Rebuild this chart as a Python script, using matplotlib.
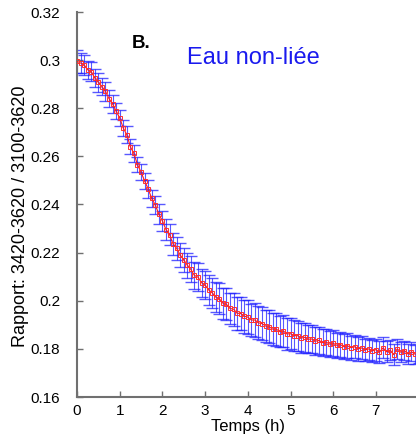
import numpy as np
import matplotlib
matplotlib.use("Agg")
import matplotlib.pyplot as plt
from matplotlib.ticker import FuncFormatter

plt.rcParams['font.family'] = ['Liberation Sans', 'DejaVu Sans']

# Sampling every 5 minutes, expressed in hours
time_min = np.arange(0, 485, 5)
time_h = time_min / 60.0

# Mean ratio 3420-3620 / 3100-3620 (one row per hour)
ratio_mean = [
    0.2995, 0.2988, 0.2980, 0.2960, 0.2952, 0.2926, 0.2908, 0.2890, 0.2870, 0.2840, 0.2818, 0.2788,
    0.2760, 0.2718, 0.2690, 0.2640, 0.2612, 0.2565, 0.2535, 0.2498, 0.2465, 0.2425, 0.2398, 0.2360,
    0.2332, 0.2296, 0.2275, 0.2236, 0.2218, 0.2190, 0.2170, 0.2148, 0.2130, 0.2105, 0.2098, 0.2075,
    0.2065, 0.2045, 0.2033, 0.2015, 0.2008, 0.1990, 0.1985, 0.1968, 0.1965, 0.1948, 0.1947, 0.1936,
    0.1932, 0.1920, 0.1920, 0.1908, 0.1905, 0.1895, 0.1892, 0.1882, 0.1882, 0.1872, 0.1874, 0.1862,
    0.1863, 0.1855, 0.1855, 0.1845, 0.1848, 0.1840, 0.1841, 0.1832, 0.1835, 0.1826, 0.1828, 0.1820,
    0.1823, 0.1815, 0.1818, 0.1809, 0.1813, 0.1805, 0.1809, 0.1800, 0.1804, 0.1796, 0.1800, 0.1792,
    0.1797, 0.1786, 0.1804, 0.1788, 0.1795, 0.1776, 0.1800, 0.1786, 0.1793, 0.1779, 0.1788, 0.1778,
    0.1780,
]

# Standard deviation at each time point
ratio_sd = [
    0.0048, 0.0043, 0.0040, 0.0038, 0.0040, 0.0036, 0.0039, 0.0035, 0.0038, 0.0034, 0.0036, 0.0033,
    0.0034, 0.0032, 0.0035, 0.0031, 0.0034, 0.0032, 0.0035, 0.0033, 0.0036, 0.0037, 0.0039, 0.0040,
    0.0041, 0.0043, 0.0044, 0.0046, 0.0047, 0.0049, 0.0051, 0.0052, 0.0054, 0.0055, 0.0057, 0.0058,
    0.0059, 0.0061, 0.0062, 0.0063, 0.0065, 0.0064, 0.0067, 0.0066, 0.0068, 0.0069, 0.0067, 0.0069,
    0.0070, 0.0068, 0.0071, 0.0069, 0.0070, 0.0068, 0.0069, 0.0067, 0.0068, 0.0066, 0.0065, 0.0065,
    0.0064, 0.0063, 0.0062, 0.0061, 0.0060, 0.0059, 0.0058, 0.0057, 0.0057, 0.0056, 0.0055, 0.0055,
    0.0054, 0.0053, 0.0052, 0.0051, 0.0051, 0.0050, 0.0049, 0.0049, 0.0048, 0.0047, 0.0047, 0.0046,
    0.0046, 0.0045, 0.0044, 0.0044, 0.0043, 0.0043, 0.0042, 0.0042, 0.0041, 0.0041, 0.0040, 0.0040,
    0.0039,
]

x_ticks = [0, 1, 2, 3, 4, 5, 6, 7]
y_ticks = [0.16, 0.18, 0.20, 0.22, 0.24, 0.26, 0.28, 0.30, 0.32]

fig = plt.figure(figsize=(4.16, 4.44), dpi=100)
ax = fig.add_axes([77 / 416, 47 / 444, 341.6 / 416, 385 / 444])

ax.errorbar(time_h, ratio_mean, yerr=ratio_sd, fmt='none', ecolor='#2020ff',
            elinewidth=0.8, capsize=4.5, capthick=1.0, alpha=0.75, zorder=2)
ax.plot(time_h, ratio_mean, color='#ff1a1a', lw=0.8, marker='s', ms=3.2,
        mfc='none', mec='#ff3030', mew=0.7, zorder=3)

ax.set_xlim(0, 8)
ax.set_ylim(0.16, 0.32)
ax.set_xticks(x_ticks)
ax.set_yticks(y_ticks)
ax.yaxis.set_major_formatter(FuncFormatter(lambda v, p: f"{v:.2f}".rstrip('0')))

for side in ('top', 'right'):
    ax.spines[side].set_visible(False)
for side in ('left', 'bottom'):
    ax.spines[side].set_color('#707070')
    ax.spines[side].set_linewidth(1.5)

ax.tick_params(direction='in', length=4, width=1, color='#707070',
               labelsize=11, pad=5)
ax.tick_params(axis='y', pad=12)

ax.set_xlabel('Temps (h)', fontsize=12, labelpad=1)
ax.set_ylabel('Rapport: 3420-3620 / 3100-3620', fontsize=13)
ax.yaxis.set_label_coords(-0.14, 0.47)

fig.text(141 / 416, 1 - 43 / 444, 'B.', fontsize=13.5, fontweight='bold',
         ha='center', va='center')
fig.text(253 / 416, 1 - 58 / 444, 'Eau non-liée', color='#1a1aee', fontsize=17,
         ha='center', va='center')

fig.savefig('out.png', dpi=100)
